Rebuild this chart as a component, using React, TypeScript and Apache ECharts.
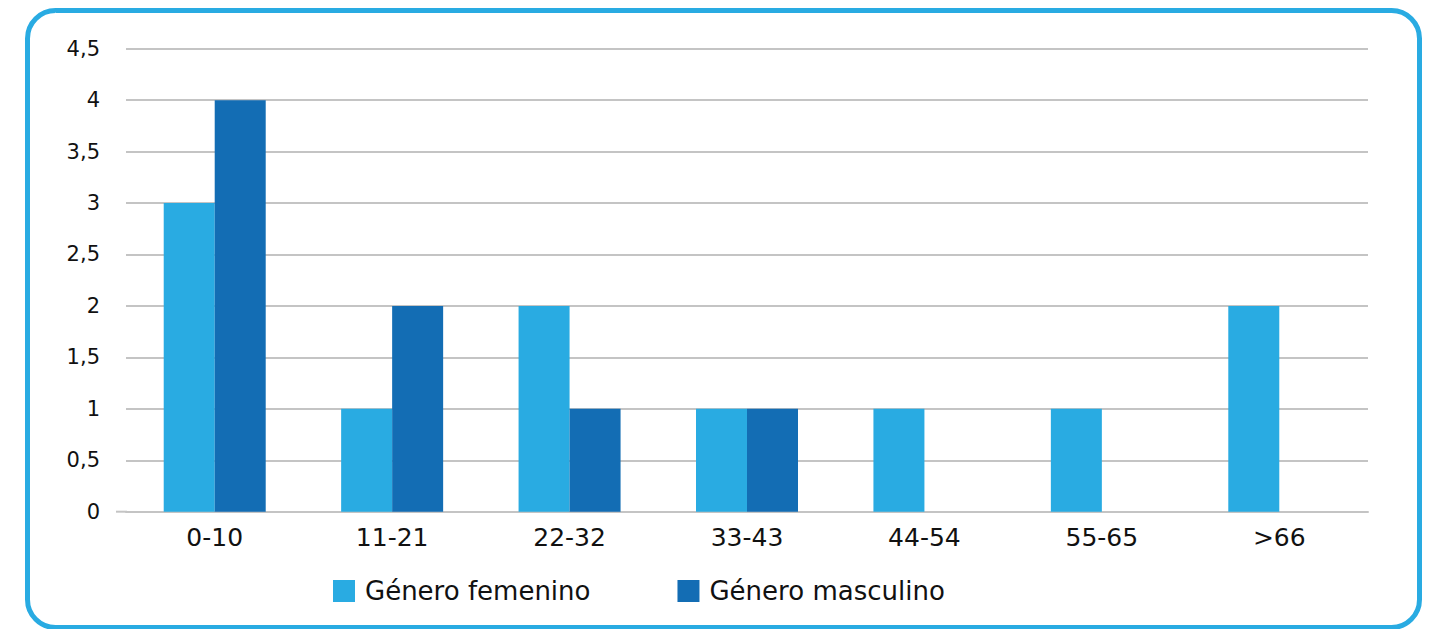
import React, { useEffect, useRef } from "react";
import * as echarts from "echarts";

const categories = ["0-10", "11-21", "22-32", "33-43", "44-54", "55-65", ">66"];
const femenino = [3, 1, 2, 1, 1, 1, 2];
const masculino = [4, 2, 1, 1, 0, 0, 0];
const seriesNames = ["Género femenino", "Género masculino"];
const yMin = 0;
const yMax = 4.5;
const yStep = 0.5;

const FONT = "DejaVu Sans";
const LIGHT = "#29abe2";
const DARK = "#136db4";

export default function App() {
  const ref = useRef<HTMLDivElement>(null);
  useEffect(() => {
    if (!ref.current) return;
    const chart = echarts.init(ref.current, undefined, { renderer: "svg" });
    chart.setOption({
      animation: false,
      grid: { left: 126, right: 65, top: 48.7, bottom: 117.3, containLabel: false },
      legend: {
        left: 333,
        top: 578,
        padding: 0,
        icon: "rect",
        itemWidth: 22,
        itemHeight: 22,
        itemGap: 87,
        textStyle: { fontFamily: FONT, fontSize: 26, color: "#111", padding: [0, 0, 0, 5] },
        data: seriesNames,
      },
      xAxis: {
        type: "category",
        data: categories,
        axisLine: { show: true, lineStyle: { color: "#c4c4c4", width: 2 } },
        axisTick: { show: false },
        axisLabel: { fontFamily: FONT, fontSize: 25, color: "#111", margin: 13 },
      },
      yAxis: {
        type: "value",
        min: yMin,
        max: yMax,
        interval: yStep,
        axisLine: { show: false },
        axisTick: { show: false },
        splitLine: { lineStyle: { color: "#c4c4c4", width: 2 } },
        axisLabel: {
          fontFamily: FONT,
          fontSize: 21,
          color: "#111",
          margin: 26,
          formatter: (v: number) => String(v).replace(".", ","),
        },
      },
      series: [
        {
          name: seriesNames[0],
          type: "bar",
          data: femenino,
          barWidth: 51,
          barGap: "0%",
          itemStyle: { color: LIGHT },
        },
        {
          name: seriesNames[1],
          type: "bar",
          data: masculino,
          barWidth: 51,
          itemStyle: { color: DARK },
        },
      ],
    });
    const y0 = chart.convertToPixel({ yAxisIndex: 0 }, 0) as number;
    chart.setOption({
      graphic: [
        {
          type: "rect",
          shape: { x: 27.5, y: 10.5, width: 1392, height: 617, r: 28 },
          style: { fill: "none", stroke: LIGHT, lineWidth: 5 },
          silent: true,
        },
        {
          type: "line",
          shape: { x1: 116, y1: y0, x2: 127, y2: y0 },
          style: { stroke: "#c4c4c4", lineWidth: 2 },
          silent: true,
        },
      ],
    });
    return () => chart.dispose();
  }, []);
  return (
    <div
      ref={ref}
      style={{ position: "absolute", left: 0, top: 0, width: 1433, height: 629, background: "#fff" }}
    />
  );
}
